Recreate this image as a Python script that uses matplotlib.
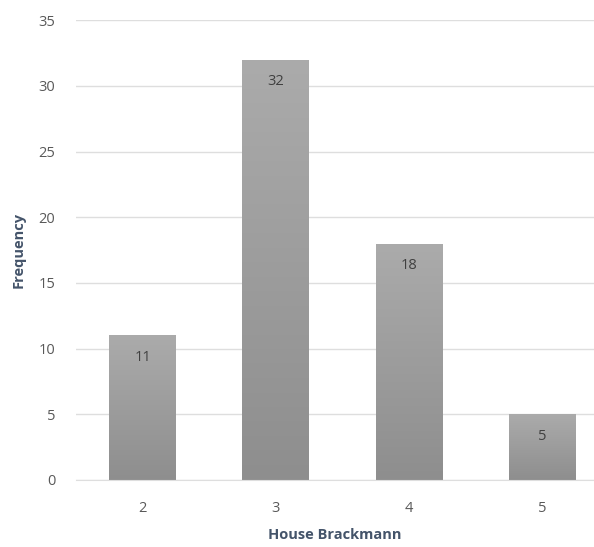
import numpy as np
import matplotlib
matplotlib.use("Agg")
import matplotlib.pyplot as plt
from matplotlib.colors import LinearSegmentedColormap

categories = ["2", "3", "4", "5"]
frequency = [11, 32, 18, 5]
y_ticks = [0, 5, 10, 15, 20, 25, 30, 35]

plt.rcParams["font.family"] = ["Open Sans", "DejaVu Sans"]

fig = plt.figure(figsize=(5.94, 5.47), dpi=100)
ax = fig.add_axes([0.128, 0.1225, 0.872, 0.8405])

x = np.arange(len(categories)) + 2
bars = ax.bar(x, frequency, width=0.5, color="none", edgecolor="none", zorder=2)

# vertical grey gradient inside each bar
grad = LinearSegmentedColormap.from_list("bar", ["#8e8e8e", "#ababab"])
ramp = np.linspace(0, 1, 256).reshape(-1, 1)
for b in bars:
    x0, y0 = b.get_x(), b.get_y()
    w, h = b.get_width(), b.get_height()
    im = ax.imshow(ramp, cmap=grad, origin="lower", aspect="auto",
                   extent=[x0, x0 + w, y0, y0 + h], zorder=2)
    im.set_clip_path(b)

for xi, v in zip(x, frequency):
    ax.annotate(str(v), (xi, v), xytext=(0, -16), textcoords="offset points",
                ha="center", va="center", fontsize=10.5, color="#404040", zorder=3)

ax.set_xlim(1.5, 5.39)
ax.set_ylim(0, 35)
ax.set_xticks(x)
ax.set_xticklabels(categories)
ax.set_yticks(y_ticks)
ax.grid(axis="y", color="#dedede", linewidth=1, zorder=0)
ax.set_axisbelow(True)
for side in ["top", "right", "left"]:
    ax.spines[side].set_visible(False)
ax.spines["bottom"].set_color("#dedede")
ax.tick_params(axis="both", length=0, labelsize=10.5, labelcolor="#595959")
ax.tick_params(axis="y", pad=15)
ax.tick_params(axis="x", pad=15)

ax.set_xlabel("House Brackmann", fontsize=10.5, fontweight="bold", color="#44546a", labelpad=9)
ax.set_ylabel("Frequency", fontsize=10.5, fontweight="bold", color="#44546a", labelpad=9)

fig.savefig("out.png", dpi=100)
